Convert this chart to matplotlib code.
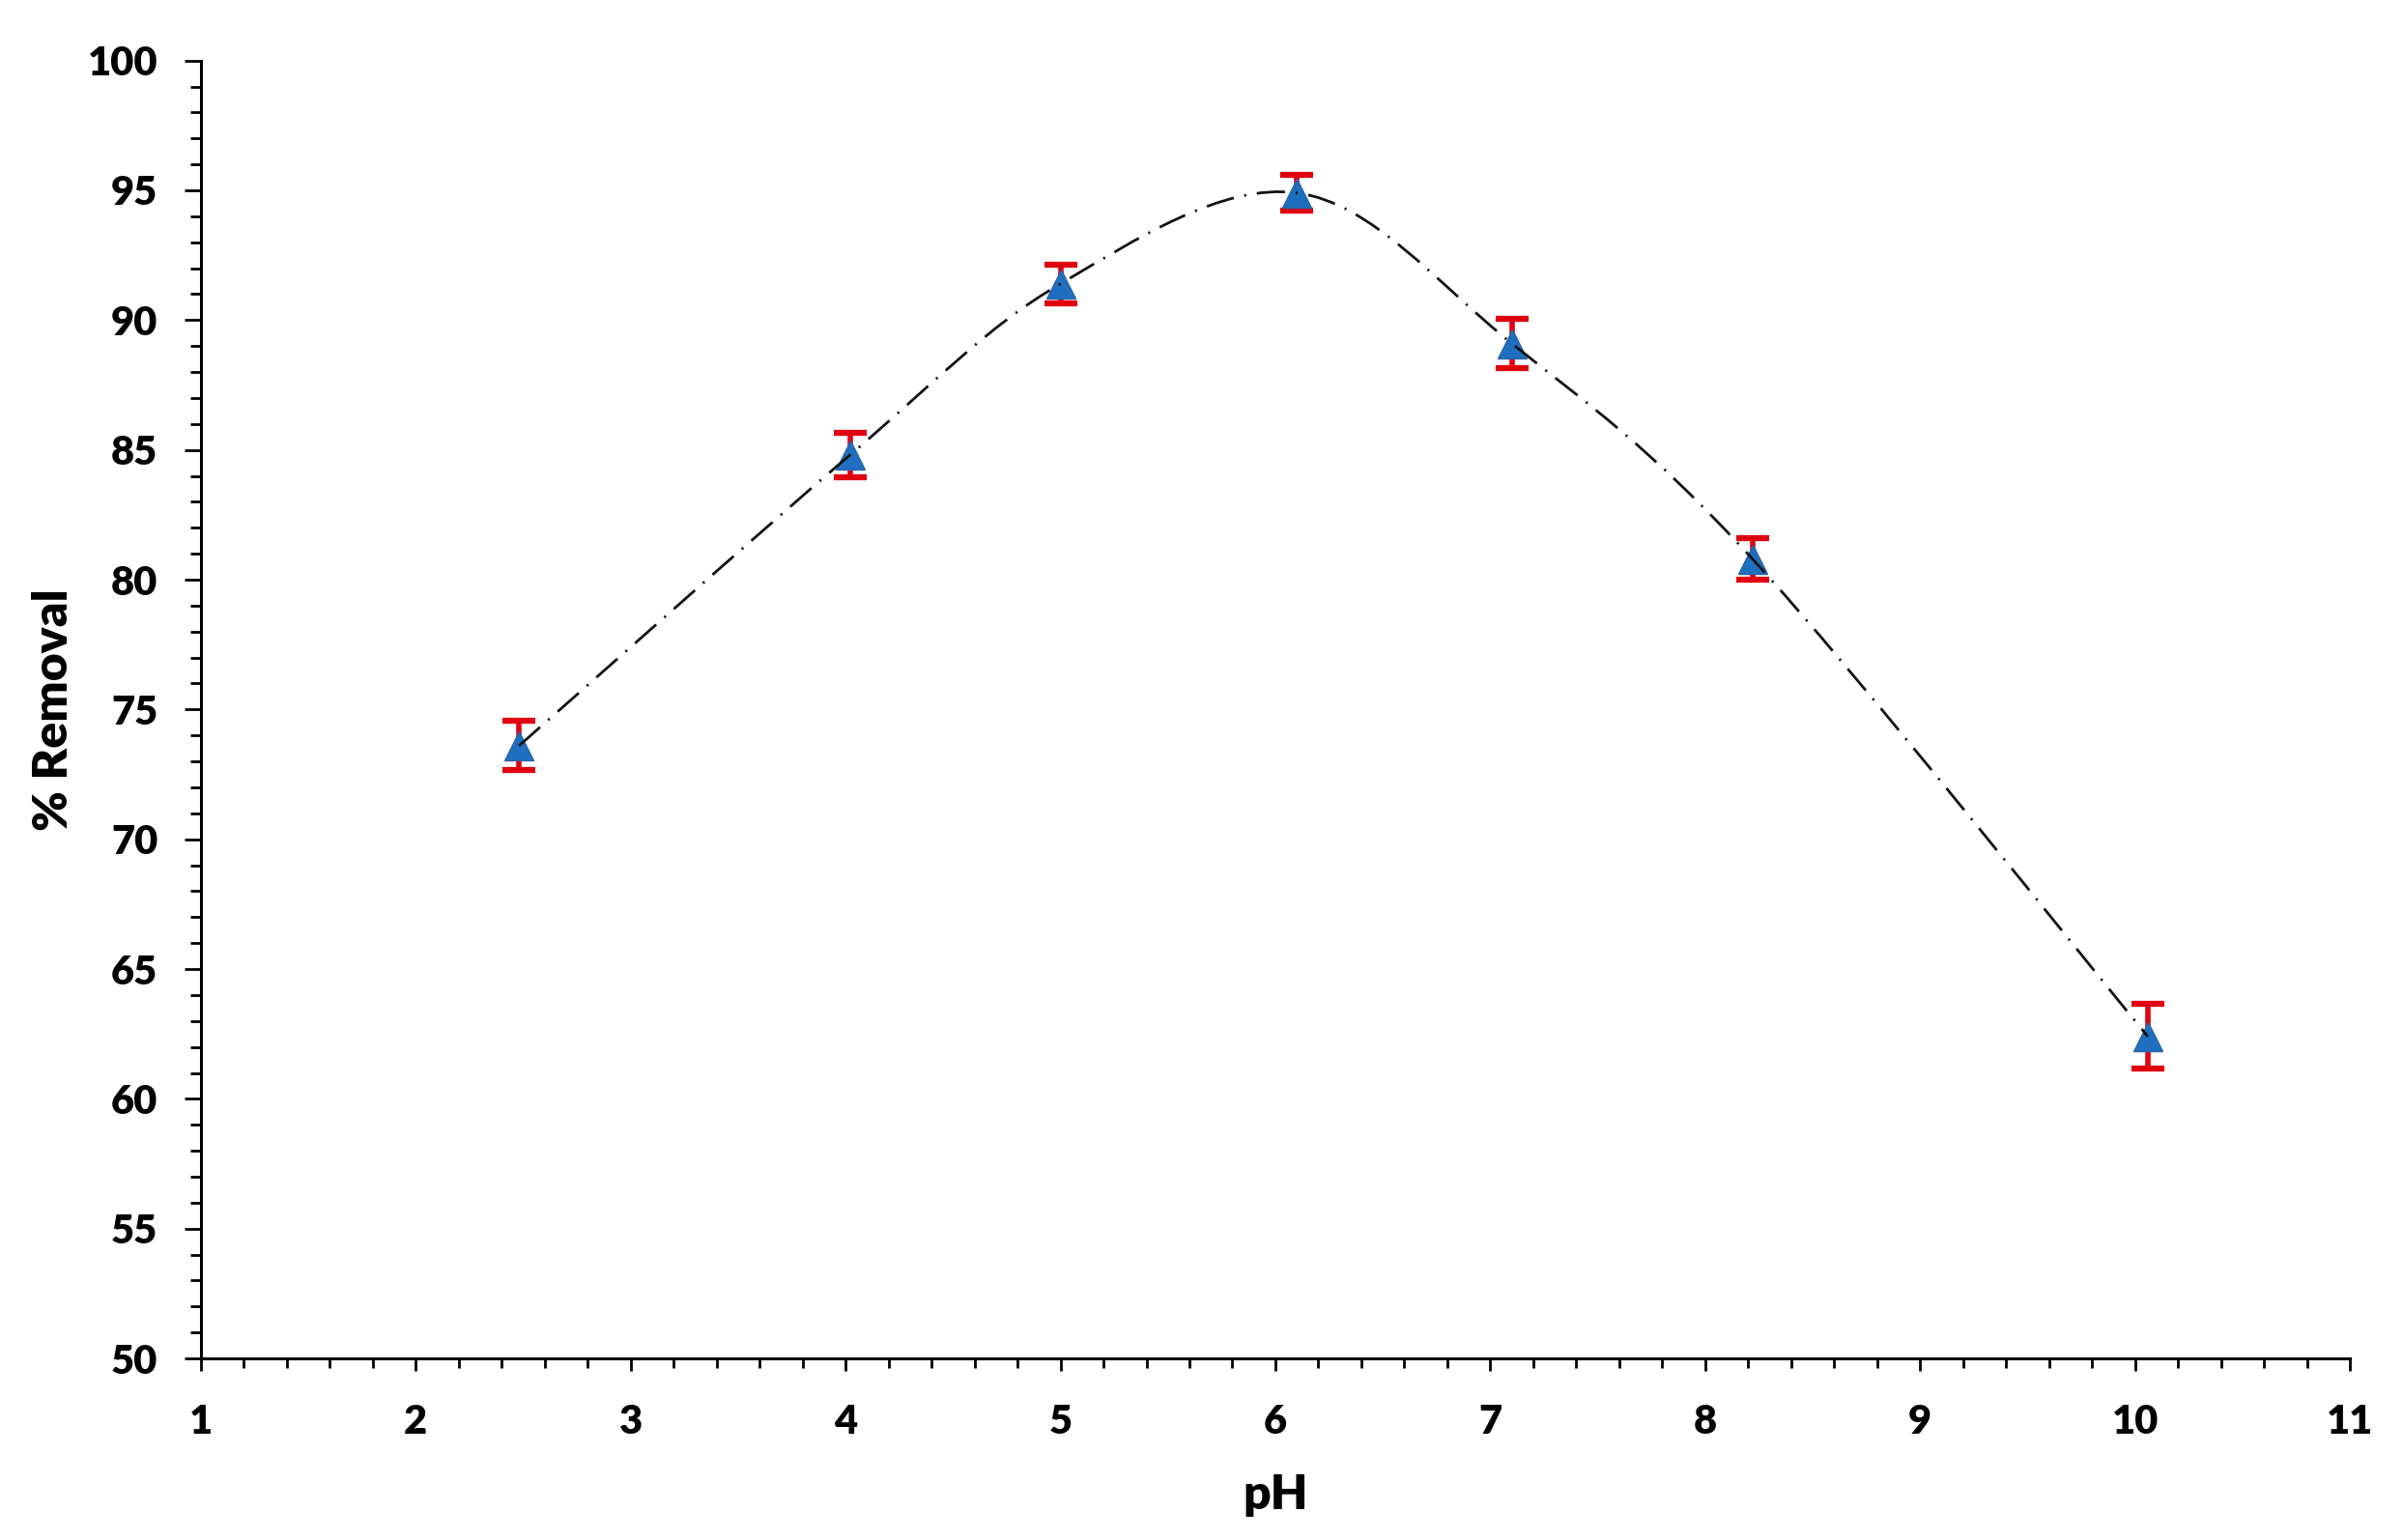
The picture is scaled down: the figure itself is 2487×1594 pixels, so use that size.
import numpy as np
import matplotlib
matplotlib.use("Agg")
import matplotlib.pyplot as plt
from matplotlib.path import Path
from matplotlib.patches import PathPatch
from matplotlib.ticker import MultipleLocator

# Datos
ph = [2.48, 4.02, 5.0, 6.10, 7.10, 8.22, 10.06]
removal = [73.6, 84.8, 91.4, 94.9, 89.1, 80.8, 62.4]
error = [0.95, 0.85, 0.75, 0.7, 0.95, 0.8, 1.25]

plt.rcParams['font.family'] = ['Lato', 'DejaVu Sans']
plt.rcParams['font.weight'] = 'heavy'
plt.rcParams['lines.scale_dashes'] = False

fig = plt.figure(figsize=(24.87, 15.94), dpi=100)
ax = fig.add_axes([0.0836, 0.1179, 0.9779 - 0.0836, 0.9607 - 0.1179])

# Curva suavizada tipo Excel (Bezier con puntos de control Catmull-Rom)
pts = np.column_stack([ph, removal])
verts = [tuple(pts[0])]
codes = [Path.MOVETO]
n = len(pts)
for i in range(n - 1):
    p0 = pts[max(i - 1, 0)]
    p1 = pts[i]
    p2 = pts[i + 1]
    p3 = pts[min(i + 2, n - 1)]
    c1 = p1 + (p2 - p0) / 6.0
    c2 = p2 - (p3 - p1) / 6.0
    verts += [tuple(c1), tuple(c2), tuple(p2)]
    codes += [Path.CURVE4] * 3
curva = PathPatch(Path(verts, codes), facecolor='none', edgecolor='#111111',
                  linewidth=2.0, linestyle=(0, (21, 8, 1.5, 8)), zorder=4)
ax.add_patch(curva)

# Puntos con barras de error
ax.errorbar(ph, removal, yerr=error, fmt='none', ecolor='#e00010',
            elinewidth=4, capsize=12, capthick=4.5, zorder=2)
ax.plot(ph, removal, linestyle='none', marker='^', markersize=21,
        markerfacecolor='#1f6fc0', markeredgecolor='#2a62a6',
        markeredgewidth=1, zorder=3)

ax.set_xlim(1, 11)
ax.set_ylim(50, 100)
ax.xaxis.set_major_locator(MultipleLocator(1))
ax.xaxis.set_minor_locator(MultipleLocator(0.2))
ax.yaxis.set_major_locator(MultipleLocator(5))
ax.yaxis.set_minor_locator(MultipleLocator(1))

for s in ['top', 'right']:
    ax.spines[s].set_visible(False)
for s in ['left', 'bottom']:
    ax.spines[s].set_linewidth(2.2)

ax.tick_params(axis='x', which='major', direction='out', length=9, width=2,
               pad=25, labelsize=30)
ax.tick_params(axis='x', which='minor', direction='out', length=7.5, width=2)
ax.tick_params(axis='y', which='major', direction='out', length=12, width=2,
               pad=20, labelsize=30)
ax.tick_params(axis='y', which='minor', direction='out', length=8, width=2)
for lab in ax.get_xticklabels() + ax.get_yticklabels():
    lab.set_fontweight('heavy')

ax.set_xlabel('pH', fontsize=36, fontweight='heavy')
ax.set_ylabel('% Removal', fontsize=36, fontweight='heavy')
ax.xaxis.label.set_verticalalignment('baseline')
ax.xaxis.set_label_coords(0.5, -0.1161)
ax.yaxis.label.set_verticalalignment('baseline')
ax.yaxis.set_label_coords(-0.062, 0.5)

fig.savefig('out.png', dpi=100)
